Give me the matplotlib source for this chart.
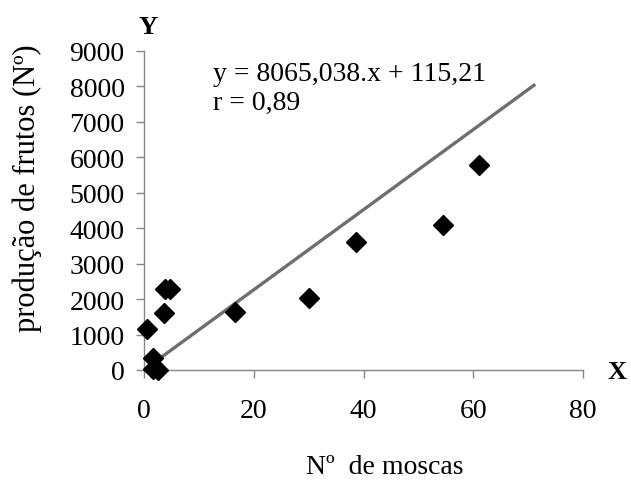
import numpy as np
import matplotlib
matplotlib.use("Agg")
import matplotlib.pyplot as plt

# numero de moscas x producao de frutos
moscas = [0.5, 1.7, 1.6, 2.6, 3.7, 3.9, 4.8, 16.6, 30.0, 38.6, 54.4, 61.1]
frutos = [1160, 330, 20, 10, 1600, 2290, 2290, 1640, 2030, 3610, 4080, 5770]

# linha de tendencia (extremos)
trend_x = [0.5, 71.3]
trend_y = [60, 8060]

eq_text = "y = 8065,038.x + 115,21\nr = 0,89"
xticks = [0, 20, 40, 60, 80]
yticks = [0, 1000, 2000, 3000, 4000, 5000, 6000, 7000, 8000, 9000]

plt.rcParams['font.family'] = ['Liberation Serif', 'DejaVu Serif']
axis_gray = '#868686'

fig = plt.figure(figsize=(6.31, 4.81), dpi=100)
ax = fig.add_axes([0.2282, 0.2287, 0.924 - 0.2282, 0.8919 - 0.2287])

ax.plot(trend_x, trend_y, color='#6e6e6e', lw=2.4, solid_capstyle='butt', zorder=2)
ax.plot(moscas, frutos, 'D', color='black', markersize=10.5, zorder=3, clip_on=False)

ax.set_xlim(0, 80)
ax.set_ylim(0, 9000)
ax.set_xticks(xticks)
ax.set_yticks(yticks)

for side in ['top', 'right']:
    ax.spines[side].set_visible(False)
for side in ['left', 'bottom']:
    ax.spines[side].set_color(axis_gray)
    ax.spines[side].set_linewidth(1.0)
ax.tick_params(axis='both', colors=axis_gray, length=6, width=1.0, labelcolor='black', labelsize=20)
ax.tick_params(axis='x', pad=14)
ax.tick_params(axis='y', pad=8)

ax.set_xlabel("Nº  de moscas", fontsize=20)
ax.xaxis.set_label_coords(0.549, -0.304)
ax.xaxis.label.set_va('center')
ax.set_ylabel("produção de frutos (Nº)", fontsize=22)
ax.yaxis.set_label_coords(-0.266, 0.574)
ax.yaxis.label.set_va('center')

ax.text(0.157, 0.968, eq_text, transform=ax.transAxes, fontsize=20,
        va='top', ha='left', linespacing=1.2)

fig.text(148 / 631, 1 - 27 / 481, "Y", fontsize=19, fontweight='bold', ha='center', va='center')
fig.text(617 / 631, 1 - 373 / 481, "X", fontsize=19, fontweight='bold', ha='center', va='center')

fig.savefig("out.png", dpi=100)
